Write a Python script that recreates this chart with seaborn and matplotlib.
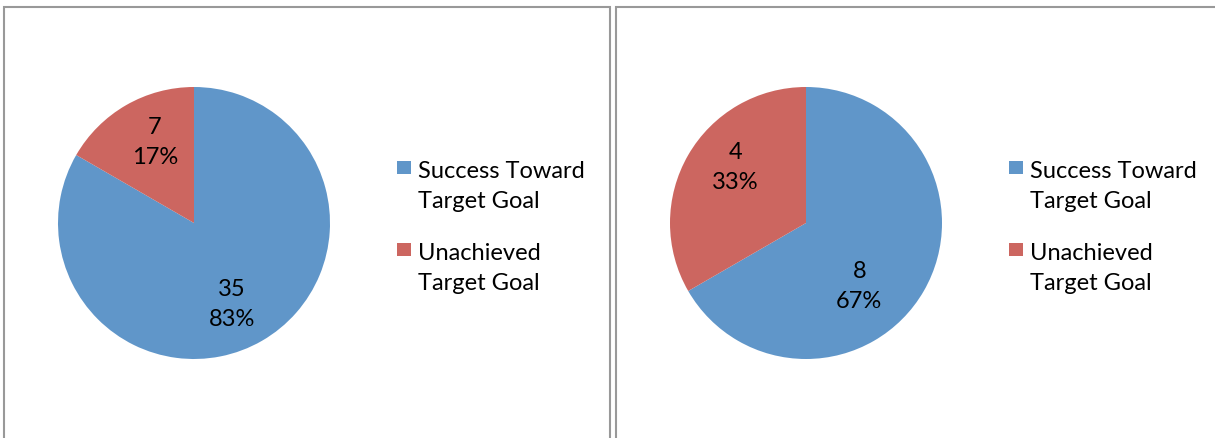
import numpy as np
import matplotlib
matplotlib.use("Agg")
import matplotlib.pyplot as plt
import seaborn as sns
from matplotlib.patches import Rectangle

# Datos del grafico
categories = ["Success Toward\nTarget Goal", "Unachieved\nTarget Goal"]
left_counts = [35, 7]
right_counts = [8, 4]
colors = ["#6096C9", "#CC6660"]

# Posicion de las etiquetas (distancia relativa, giro en grados)
left_label_dist = [0.66, 0.66]
left_label_shift = [-5, -4]
right_label_dist = [0.61, 0.66]
right_label_shift = [-20, -8]

sns.set_theme(style="white")
plt.rcParams["font.family"] = ["Lato", "DejaVu Sans"]

W, H = 1215, 438
fig = plt.figure(figsize=(W / 100, H / 100), dpi=100)
fig.patch.set_facecolor("white")

FS = 17
LS = 1.52
R = 136


def fx(px):
    return px / W


def fy(py):
    return 1 - py / H


def draw_panel(x0, x1, cx, cy, counts, dists, shifts):
    # Borde del panel
    fig.patches.append(Rectangle((fx(x0), fy(H + 20)), fx(x1 - x0), fy(7) - fy(H + 20),
                                 transform=fig.transFigure, fill=False,
                                 edgecolor="#999999", linewidth=1.5))
    # Tarta
    ax = fig.add_axes([fx(cx - R), fy(cy + R), fx(2 * R), (2 * R) / H])
    wedges, _ = ax.pie(counts, colors=colors, startangle=90, counterclock=False,
                       wedgeprops=dict(linewidth=0))
    ax.set_xlim(-1, 1)
    ax.set_ylim(-1, 1)
    ax.set_aspect("equal")
    ax.axis("off")
    total = sum(counts)
    for w, c, d, s in zip(wedges, counts, dists, shifts):
        ang = np.deg2rad((w.theta1 + w.theta2) / 2 + s)
        ax.text(d * np.cos(ang), d * np.sin(ang), f"{c}\n{c / total * 100:.0f}%",
                ha="center", va="center", fontsize=FS, color="black",
                linespacing=LS)
    # Leyenda
    lx = cx + 203
    for i, (cat, col) in enumerate(zip(categories, colors)):
        first = 177 + i * 82
        fig.patches.append(Rectangle((fx(lx), fy(first - 3)), fx(14), 13 / H,
                                     transform=fig.transFigure, facecolor=col,
                                     edgecolor="none"))
        fig.text(fx(lx + 21), fy(first + 31), cat, ha="left", va="baseline",
                 fontsize=FS, color="black", linespacing=LS)


draw_panel(4, 610, 194, 223, left_counts, left_label_dist, left_label_shift)
draw_panel(616, W + 20, 806, 223, right_counts, right_label_dist, right_label_shift)

fig.savefig("out.png", dpi=100)
